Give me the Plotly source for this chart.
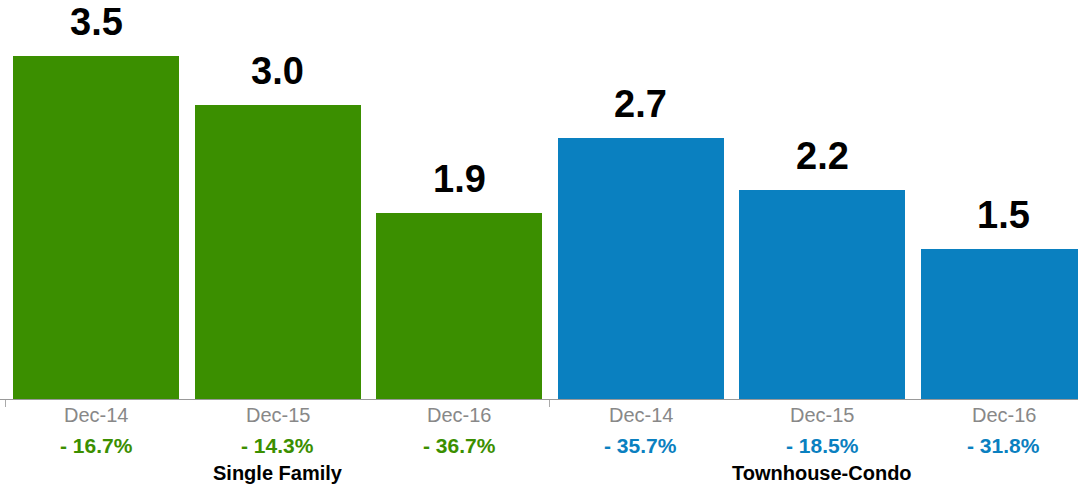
import plotly.graph_objects as go

periods = ["Dec-14", "Dec-15", "Dec-16", "Dec-14", "Dec-15", "Dec-16"]
values = [3.50, 3.00, 1.90, 2.66, 2.13, 1.53]
value_labels = ["3.5", "3.0", "1.9", "2.7", "2.2", "1.5"]
changes = ["- 16.7%", "- 14.3%", "- 36.7%", "- 35.7%", "- 18.5%", "- 31.8%"]
groups = ["Single Family", "Townhouse-Condo"]
group_of_bar = [0, 0, 0, 1, 1, 1]
group_colors = ["#3b8f00", "#0a80c0"]

FONT = "Liberation Sans, Arial, Helvetica, sans-serif"
xs = list(range(len(values)))
bar_colors = [group_colors[g] for g in group_of_bar]

fig = go.Figure()
fig.add_trace(go.Bar(
    x=xs, y=values, marker=dict(color=bar_colors, line=dict(width=0)),
    width=0.915, hoverinfo="skip",
))

annotations = []
for i, v in enumerate(values):
    annotations.append(dict(
        x=i, y=v, xref="x", yref="y", text=value_labels[i], showarrow=False,
        yanchor="bottom", yshift=11,
        font=dict(family=FONT, size=38, color="#000000", weight="bold"),
    ))
    annotations.append(dict(
        x=i, y=0, xref="x", yref="paper", text=periods[i], showarrow=False,
        yanchor="middle", yshift=-16,
        font=dict(family=FONT, size=20, color="#888888"),
    ))
    annotations.append(dict(
        x=i, y=0, xref="x", yref="paper", text=changes[i], showarrow=False,
        yanchor="middle", yshift=-46,
        font=dict(family=FONT, size=21, color=bar_colors[i], weight="bold"),
    ))
for g, name in enumerate(groups):
    idx = [i for i, gg in enumerate(group_of_bar) if gg == g]
    annotations.append(dict(
        x=sum(idx) / len(idx), y=0, xref="x", yref="paper", text=name, showarrow=False,
        yanchor="middle", yshift=-74,
        font=dict(family=FONT, size=20, color="#000000", weight="bold"),
    ))

fig.update_layout(
    width=1078, height=486,
    margin=dict(l=0, r=0, t=0, b=87),
    paper_bgcolor="white", plot_bgcolor="white",
    showlegend=False,
    bargap=0,
    annotations=annotations,
    xaxis=dict(
        range=[-0.53, 5.409], showgrid=False, zeroline=False,
        showline=True, linecolor="#999999", linewidth=1,
        tickmode="array", tickvals=[-0.5, 2.5], ticktext=["", ""],
        ticks="outside", ticklen=7, tickcolor="#aaaaaa", tickwidth=1,
        fixedrange=True,
    ),
    yaxis=dict(
        range=[0, 4.07], visible=False, showgrid=False, zeroline=False, fixedrange=True,
    ),
)

fig.write_html(
    "out.html",
    config={"displayModeBar": False},
    post_script="document.body.style.margin='0';document.body.style.overflow='hidden';",
)
